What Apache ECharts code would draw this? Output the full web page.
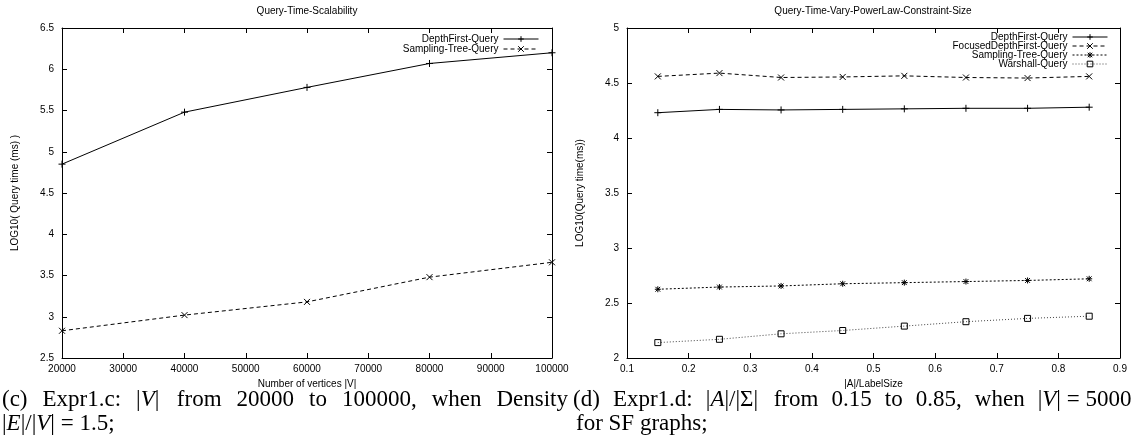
<!DOCTYPE html>
<html>
<head>
<meta charset="utf-8">
<script src="https://cdn.jsdelivr.net/npm/echarts@6/dist/echarts.min.js"></script>
<style>
html,body{margin:0;padding:0;background:#fff;}
#main{width:1135px;height:441px;}
</style>
</head>
<body>
<div id="main"></div>
<script>
// ---- data: chart (c) ----
const verticesTicks = [20000, 30000, 40000, 50000, 60000, 70000, 80000, 90000, 100000];
const logTicksC = [2.5, 3, 3.5, 4, 4.5, 5, 5.5, 6, 6.5];
const vertices = [20000, 40000, 60000, 80000, 100000];
const depthFirstC = [4.85, 5.48, 5.78, 6.07, 6.20];
const samplingTreeC = [2.83, 3.02, 3.18, 3.48, 3.66];

// ---- data: chart (d) ----
const labelSizeTicks = [0.1, 0.2, 0.3, 0.4, 0.5, 0.6, 0.7, 0.8, 0.9];
const logTicksD = [2, 2.5, 3, 3.5, 4, 4.5, 5];
const labelSizes = [0.15, 0.25, 0.35, 0.45, 0.55, 0.65, 0.75, 0.85];
const depthFirstD = [4.23, 4.26, 4.255, 4.26, 4.265, 4.27, 4.27, 4.28];
const focusedD = [4.56, 4.59, 4.55, 4.555, 4.565, 4.55, 4.545, 4.56];
const samplingTreeD = [2.625, 2.645, 2.655, 2.675, 2.685, 2.695, 2.705, 2.72];
const warshallD = [2.14, 2.17, 2.22, 2.25, 2.29, 2.33, 2.36, 2.38];

const SANS = '"Liberation Sans", Arial, sans-serif';
const SERIF = '"Liberation Serif", "DejaVu Serif", serif';

const SYM_PLUS = 'path://M0,5L10,5M5,0L5,10';
const SYM_CROSS = 'path://M0,0L10,10M10,0L0,10';
const SYM_STAR = 'path://M0,5L10,5M5,0L5,10M1,1L9,9M9,1L1,9';
const SYM_BOX = 'path://M0,0L10,0L10,10L0,10Z';

function zip(xs, ys) { return xs.map((x, i) => [x, ys[i]]); }

const chart = echarts.init(document.getElementById('main'), null, {renderer: 'canvas'});

const grids = [
  {left: 62, top: 28, width: 490, height: 330},
  {left: 627, top: 28, width: 493, height: 330}
];

function xAxisPair(gi, ticks, name) {
  const min = ticks[0], max = ticks[ticks.length - 1], interval = ticks[1] - ticks[0];
  const base = {
    gridIndex: gi, type: 'value', min: min, max: max, interval: interval,
    axisLine: {show: true, onZero: false, lineStyle: {color: '#000', width: 1}},
    axisTick: {show: true, inside: true, length: 5, lineStyle: {color: '#000'}},
    splitLine: {show: false}
  };
  return [
    Object.assign({}, base, {
      position: 'bottom', name: name, nameLocation: 'middle', nameGap: 21,
      nameTextStyle: {fontFamily: SANS, fontSize: 10, color: '#000'},
      axisLabel: {show: true, fontFamily: SANS, fontSize: 10, color: '#000', margin: 6,
                  formatter: (v) => String(+v.toFixed(6))}
    }),
    Object.assign({}, base, {position: 'top', axisLabel: {show: false}})
  ];
}
function yAxisPair(gi, ticks, name, gap) {
  const min = ticks[0], max = ticks[ticks.length - 1], interval = ticks[1] - ticks[0];
  const base = {
    gridIndex: gi, type: 'value', min: min, max: max, interval: interval,
    axisLine: {show: true, onZero: false, lineStyle: {color: '#000', width: 1}},
    axisTick: {show: true, inside: true, length: 5, lineStyle: {color: '#000'}},
    splitLine: {show: false}
  };
  return [
    Object.assign({}, base, {
      position: 'left', name: name, nameLocation: 'middle', nameGap: gap, nameRotate: 90,
      nameTextStyle: {fontFamily: SANS, fontSize: 10, color: '#000'},
      axisLabel: {show: true, fontFamily: SANS, fontSize: 10, color: '#000', margin: 8}
    }),
    Object.assign({}, base, {position: 'right', axisLabel: {show: false}})
  ];
}

const xAxes = [].concat(
  xAxisPair(0, verticesTicks, 'Number of vertices |V|'),
  xAxisPair(1, labelSizeTicks, '|A|/LabelSize')
);
const yAxes = [].concat(
  yAxisPair(0, logTicksC, 'LOG10( Query time (ms) )', 42),
  yAxisPair(1, logTicksD, 'LOG10(Query time(ms))', 42)
);

function lineSeries(name, xi, yi, xs, ys, symbol, size, dash, color) {
  return {
    name: name, type: 'line', xAxisIndex: xi, yAxisIndex: yi,
    data: zip(xs, ys), symbol: symbol, symbolSize: size, showSymbol: true,
    clip: false, animation: false, silent: true,
    lineStyle: {color: color || '#000', width: 1, type: dash},
    itemStyle: {color: 'rgba(0,0,0,0)', borderColor: '#000', borderWidth: 1}
  };
}

const series = [
  lineSeries('DepthFirst-Query', 0, 0, vertices, depthFirstC, SYM_PLUS, 7, 'solid'),
  lineSeries('Sampling-Tree-Query', 0, 0, vertices, samplingTreeC, SYM_CROSS, 6, [4, 3]),
  lineSeries('DepthFirst-Query ', 2, 2, labelSizes, depthFirstD, SYM_PLUS, 7, 'solid'),
  lineSeries('FocusedDepthFirst-Query', 2, 2, labelSizes, focusedD, SYM_CROSS, 6, [4, 3]),
  lineSeries('Sampling-Tree-Query ', 2, 2, labelSizes, samplingTreeD, SYM_STAR, 6, [2, 2]),
  lineSeries('Warshall-Query', 2, 2, labelSizes, warshallD, SYM_BOX, 6, [1, 2], '#444')
];

function legendItem(name, right, top) {
  return {
    data: [{name: name}], orient: 'vertical', right: right, top: top, padding: 0,
    align: 'right', itemWidth: 35, itemHeight: 7, itemGap: 0, selectedMode: false,
    itemStyle: {color: 'rgba(0,0,0,0)', borderColor: '#000', borderWidth: 1},
    lineStyle: {width: 1},
    textStyle: {fontFamily: SANS, fontSize: 10, color: '#000', lineHeight: 10},
    formatter: (n) => n.trim()
  };
}

const legends = [
  legendItem('DepthFirst-Query', 596, 34),
  legendItem('Sampling-Tree-Query', 596, 44),
  legendItem('DepthFirst-Query ', 27, 32),
  legendItem('FocusedDepthFirst-Query', 27, 41),
  legendItem('Sampling-Tree-Query ', 27, 50),
  legendItem('Warshall-Query', 27, 59)
];

// ---- captions (text, laid out as justified lines) ----
const CAP_SIZE = 23;
const measureCtx = document.createElement('canvas').getContext('2d');
function plain(s) { return s.replace(/\{i\|([^}]*)\}/g, '$1'); }
function wordEl(text, x, y) {
  return {
    type: 'text', x: x, y: y, silent: true,
    style: {
      text: text, fill: '#000', fontFamily: SERIF, fontSize: CAP_SIZE,
      verticalAlign: 'middle', align: 'left',
      rich: {i: {fontFamily: SERIF, fontSize: CAP_SIZE, fontStyle: 'italic', fill: '#000'}}
    }
  };
}
function justified(words, x0, x1, y) {
  measureCtx.font = CAP_SIZE + 'px ' + SERIF;
  const widths = words.map(w => measureCtx.measureText(plain(w)).width);
  const total = widths.reduce((a, b) => a + b, 0);
  const gap = (x1 - x0 - total) / (words.length - 1);
  let x = x0;
  return words.map((w, i) => { const el = wordEl(w, x, y); x += widths[i] + gap; return el; });
}

const captionEls = [].concat(
  justified(['(c)', 'Expr1.c:', '|{i|V}|', 'from', '20000', 'to', '100000,', 'when', 'Density'], 2, 568, 400),
  [wordEl('|{i|E}|/|{i|V}| = 1.5;', 2, 424)],
  justified(['(d)', 'Expr1.d:', '|{i|A}|/|Σ|', 'from', '0.15', 'to', '0.85,', 'when', '|{i|V}| = 5000'], 573, 1134, 400),
  [wordEl('for SF graphs;', 576, 424)]
);

const option = {
  backgroundColor: '#fff',
  animation: false,
  title: [
    {text: 'Query-Time-Scalability', left: 307, top: 6, textAlign: 'center', padding: 0,
     textStyle: {fontFamily: SANS, fontSize: 10, fontWeight: 'normal', color: '#000'}},
    {text: 'Query-Time-Vary-PowerLaw-Constraint-Size', left: 873, top: 6, textAlign: 'center', padding: 0,
     textStyle: {fontFamily: SANS, fontSize: 10, fontWeight: 'normal', color: '#000'}}
  ],
  legend: legends,
  grid: grids,
  xAxis: xAxes,
  yAxis: yAxes,
  series: series,
  graphic: captionEls
};
chart.setOption(option);
</script>
</body>
</html>
